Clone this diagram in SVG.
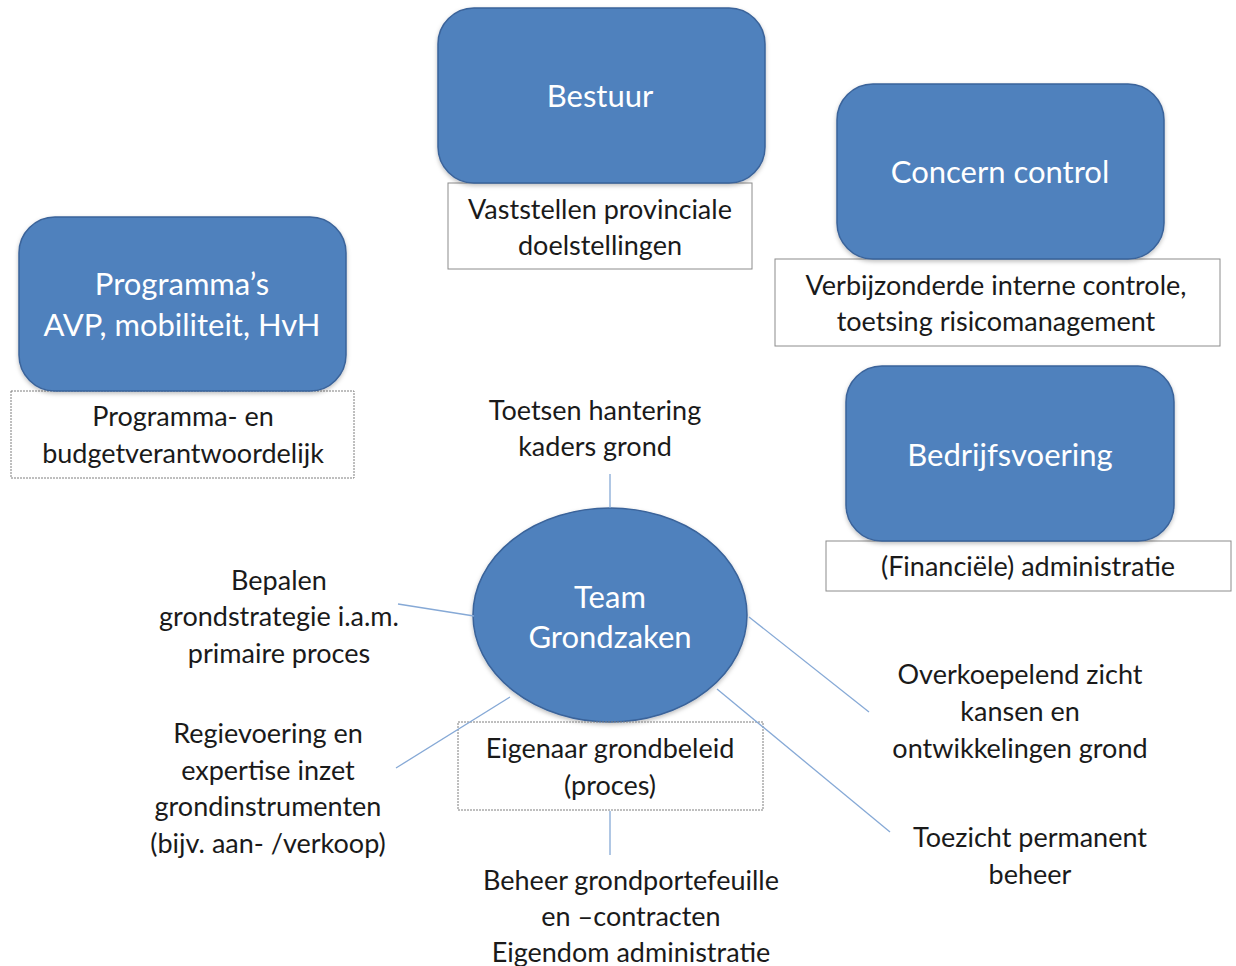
<svg xmlns="http://www.w3.org/2000/svg" width="1236" height="966" viewBox="0 0 1236 966">
<defs>
<style>
.blue{fill:#4F81BD;stroke:#3A639A;stroke-width:1.5}
.box{fill:#FFFFFF;stroke:#8C8C8C;stroke-width:1}
.dot{fill:none;stroke:#7F7F7F;stroke-width:1;stroke-dasharray:2 1}
.wt{font-family:Lato,"Open Sans","Liberation Sans",sans-serif;font-size:31px;fill:#FFFFFF;text-anchor:middle}
.bt{font-family:Lato,"Open Sans","Liberation Sans",sans-serif;font-size:27px;fill:#1A1A1A;text-anchor:middle}
.ln{stroke:#86A9D6;stroke-width:1.3;fill:none}
</style>
<filter id="sh" x="-10%" y="-10%" width="120%" height="130%">
<feDropShadow dx="0" dy="2" stdDeviation="2" flood-color="#000" flood-opacity="0.25"/>
</filter>
</defs>
<rect width="1236" height="966" fill="#FFFFFF"/>
<g id="bestuur">
<rect class="box" x="448" y="183" width="304" height="86"/>
<rect class="blue" filter="url(#sh)" x="438" y="8" width="327" height="175" rx="36"/>
<text class="wt" x="600" y="107">Bestuur</text>
<text class="bt" x="600" y="219">Vaststellen provinciale</text>
<text class="bt" x="600" y="255">doelstellingen</text>
</g>
<g id="concern-control">
<rect class="box" x="775" y="259" width="445" height="87"/>
<rect class="blue" filter="url(#sh)" x="837" y="84" width="327" height="175" rx="36"/>
<text class="wt" x="1000" y="183">Concern control</text>
<text class="bt" x="996" y="295">Verbijzonderde interne controle,</text>
<text class="bt" x="996" y="331">toetsing risicomanagement</text>
</g>
<g id="programmas">
<rect class="dot" x="11" y="391" width="343" height="87"/>
<rect class="blue" filter="url(#sh)" x="19" y="217" width="327" height="174" rx="36"/>
<text class="wt" x="182" y="295">Programma’s</text>
<text class="wt" x="182" y="336">AVP, mobiliteit, HvH</text>
<text class="bt" x="183" y="426">Programma- en</text>
<text class="bt" x="183" y="463">budgetverantwoordelijk</text>
</g>
<g id="bedrijfsvoering">
<rect class="box" x="826" y="541" width="405" height="50"/>
<rect class="blue" filter="url(#sh)" x="846" y="366" width="328" height="175" rx="36"/>
<text class="wt" x="1010" y="466">Bedrijfsvoering</text>
<text class="bt" x="1028" y="576">(Financiële) administratie</text>
</g>
<g id="team-grondzaken">
<ellipse class="blue" filter="url(#sh)" cx="610" cy="615" rx="137" ry="107"/>
<rect class="dot" x="458" y="722" width="305" height="88"/>
<text class="wt" x="610" y="608">Team</text>
<text class="wt" x="610" y="648">Grondzaken</text>
<text class="bt" x="610" y="758">Eigenaar grondbeleid</text>
<text class="bt" x="610" y="795">(proces)</text>
</g>
<g id="connectors">
<line class="ln" x1="610" y1="474" x2="610" y2="508"/>
<line class="ln" x1="398" y1="604" x2="474" y2="616"/>
<line class="ln" x1="510" y1="697" x2="396" y2="768"/>
<line class="ln" x1="749" y1="617" x2="869" y2="712"/>
<line class="ln" x1="717" y1="689" x2="890" y2="832"/>
<line class="ln" x1="610" y1="811" x2="610" y2="855"/>
</g>
<g id="label-toetsen">
<text class="bt" x="595" y="420">Toetsen hantering</text>
<text class="bt" x="595" y="456">kaders grond</text>
</g>
<g id="label-bepalen">
<text class="bt" x="279" y="590">Bepalen</text>
<text class="bt" x="279" y="626">grondstrategie i.a.m.</text>
<text class="bt" x="279" y="663">primaire proces</text>
</g>
<g id="label-regievoering">
<text class="bt" x="268" y="743">Regievoering en</text>
<text class="bt" x="268" y="780">expertise inzet</text>
<text class="bt" x="268" y="816">grondinstrumenten</text>
<text class="bt" x="268" y="853">(bijv. aan- /verkoop)</text>
</g>
<g id="label-beheer">
<text class="bt" x="631" y="890">Beheer grondportefeuille</text>
<text class="bt" x="631" y="926">en –contracten</text>
<text class="bt" x="631" y="962">Eigendom administratie</text>
</g>
<g id="label-overkoepelend">
<text class="bt" x="1020" y="684">Overkoepelend zicht</text>
<text class="bt" x="1020" y="721">kansen en</text>
<text class="bt" x="1020" y="758">ontwikkelingen grond</text>
</g>
<g id="label-toezicht">
<text class="bt" x="1030" y="847">Toezicht permanent</text>
<text class="bt" x="1030" y="884">beheer</text>
</g>
</svg>
